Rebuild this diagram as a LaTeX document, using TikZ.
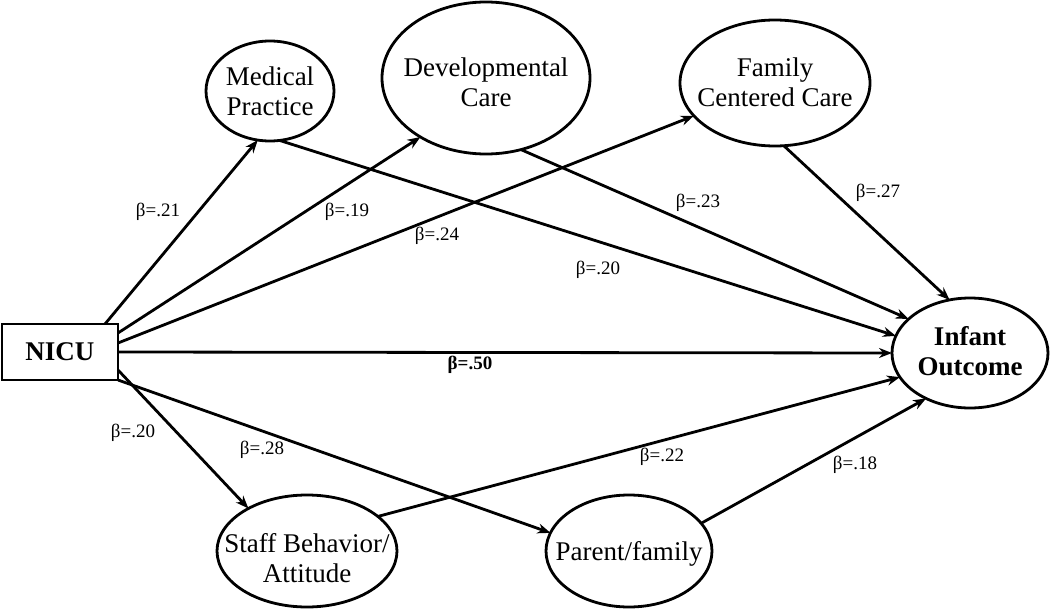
\documentclass[tikz,border=0pt]{standalone}
\usepackage{fontspec}
\setmainfont{Liberation Serif}
\usetikzlibrary{shapes.geometric,arrows.meta}
\newcommand\ztext[2][0pt]{\raisebox{\dimexpr-0.3em-#1\relax}[0pt][0pt]{\makebox[0pt]{\begin{tabular}{@{}c@{}}#2\end{tabular}}}}
\begin{document}
\begin{tikzpicture}[x=1pt,y=-1pt,
  ell/.style={draw, ellipse, inner sep=0pt, outer sep=0pt, line width=2.8pt, font=\fontsize{27}{30}\selectfont},
  boxnode/.style={draw, rectangle, inner sep=0pt, outer sep=0pt, line width=2.8pt, minimum width=116pt, minimum height=56pt, font=\fontsize{27}{30}\selectfont\bfseries},
  lbl/.style={inner sep=0pt, font=\fontsize{19}{22}\selectfont},
  conn/.style={line width=2.8pt, -{Stealth[length=13pt,width=10pt]}}]
\useasboundingbox (0,0) rectangle (1050,610);
% nodes
\node[boxnode] (nicu) at (60,352) {NICU};
\node[ell, minimum width=128pt, minimum height=100pt] (med) at (270,91) {\ztext[2pt]{Medical\\Practice}};
\node[ell, minimum width=208pt, minimum height=152pt] (dev) at (486,78) {\ztext[6pt]{Developmental\\Care}};
\node[ell, minimum width=190pt, minimum height=126pt] (fcc) at (775,83) {\ztext[1pt]{Family\\Centered Care}};
\node[ell, minimum width=156pt, minimum height=110pt, font=\fontsize{27}{30}\selectfont\bfseries] (inf) at (970,353) {\ztext{Infant\\Outcome}};
\node[ell, minimum width=180pt, minimum height=112pt] (staff) at (307,551) {\ztext[9pt]{Staff Behavior/\\Attitude}};
\node[ell, minimum width=166pt, minimum height=112pt] (par) at (629,551) {\ztext[2pt]{Parent/family}};
% connectors
\draw[conn] ([xshift=-13pt]nicu.north east) -- (med.256.8);
\draw[conn] ([yshift=-9pt]nicu.north east) -- (dev.222.7);
\draw[conn] ([yshift=-19pt]nicu.north east) -- (fcc.202.5);
\draw[conn] (nicu.east) -- (inf.180);
\draw[conn] ([yshift=10pt]nicu.south east) -- (staff.144.6);
\draw[conn] (nicu.south east) -- (par.167);
\draw[conn] (med.281.5) -- (inf.167.3);
\draw[conn] (dev.296.6) -- (inf.151.7);
\draw[conn] (fcc.278.9) -- (inf.111.8);
\draw[conn] (staff.26.9) -- (inf.199.8);
\draw[conn] (par.21.7) -- (inf.226.8);
% labels
\node[lbl] (b21) at (158,212) {β=.21};
\node[lbl] (b19) at (347,212) {β=.19};
\node[lbl] (b24) at (437,236) {β=.24};
\node[lbl] (b20a) at (598,270) {β=.20};
\node[lbl] (b23) at (698,203) {β=.23};
\node[lbl] (b27) at (878,193) {β=.27};
\node[lbl, font=\fontsize{19}{22}\selectfont\bfseries] (b50) at (470,365) {β=.50};
\node[lbl] (b20b) at (133,433) {β=.20};
\node[lbl] (b28) at (262,450) {β=.28};
\node[lbl] (b22) at (662,457) {β=.22};
\node[lbl] (b18) at (855,465) {β=.18};
\end{tikzpicture}
\end{document}
